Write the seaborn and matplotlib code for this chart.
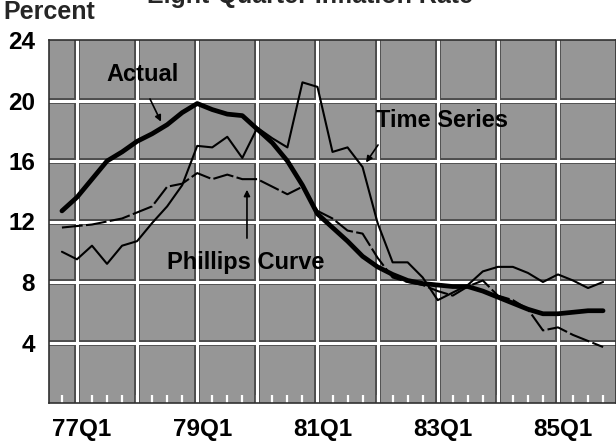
import matplotlib
matplotlib.use("Agg")
import matplotlib.pyplot as plt
import matplotlib.transforms as mtransforms
import seaborn as sns
import pandas as pd

# ---- data (quarters 76Q4 .. 85Q4) ----
quarters = ["76Q4"] + [f"{y}Q{q}" for y in range(77, 86) for q in range(1, 5)]
actual = [12.7, 13.6, 14.8, 16.0, 16.6, 17.3, 17.8, 18.4, 19.2, 19.8, 19.4, 19.1,
          19.0, 18.1, 17.2, 16.0, 14.4, 12.5, 11.6, 10.7, 9.7, 9.0, 8.5, 8.1,
          7.9, 7.8, 7.7, 7.7, 7.4, 7.0, 6.6, 6.2, 5.9, 5.9, 6.0, 6.1, 6.1]
time_series = [10.0, 9.5, 10.4, 9.2, 10.4, 10.7, 11.9, 13.0, 14.4, 17.0, 16.9, 17.6,
               16.2, 18.2, 17.5, 16.9, 21.2, 20.9, 16.6, 16.9, 15.6, 11.9, 9.3, 9.3,
               8.3, 6.8, 7.3, 7.8, 8.7, 9.0, 9.0, 8.6, 8.0, 8.5, 8.1, 7.6, 8.0]
phillips = [11.6, 11.7, 11.8, 12.0, 12.2, 12.6, 13.0, 14.3, 14.5, 15.2, 14.8, 15.1,
            14.8, 14.8, 14.3, 13.8, 14.3, 12.7, 12.2, 11.4, 11.2, 9.6, 8.3, 8.0,
            7.8, 7.4, 7.1, 7.7, 8.1, 7.1, 6.8, 6.2, 4.8, 5.0, 4.5, 4.1, 3.7]
y_ticks = [4, 8, 12, 16, 20, 24]
x_tick_labels = ["77Q1", "79Q1", "81Q1", "83Q1", "85Q1"]


def qpos(label):
    yr, q = label.split("Q")
    return (int(yr) - 77) * 4 + int(q) - 1


df = pd.DataFrame({
    "x": [qpos(s) for s in quarters],
    "Actual": actual,
    "Time Series": time_series,
    "Phillips Curve": phillips,
})

sns.set_style("white")
plt.rcParams["font.family"] = ["Liberation Sans", "DejaVu Sans"]
plt.rcParams["font.weight"] = "bold"

fig = plt.figure(figsize=(6.16, 4.41), dpi=100)
ax = fig.add_axes([49 / 616, 38 / 441, 567 / 616, 363 / 441])
ax.set_facecolor("#969696")

xmin, xmax = -1.86, 35.86
ax.set_xlim(xmin, xmax)
ax.set_ylim(0, 24)

# grid: dark halo under white lines
grid_x = list(range(0, 37, 4))
for gx in grid_x:
    ax.axvline(gx, color="#4a4a4a", lw=4.2, zorder=0.3)
    ax.axvline(gx, color="white", lw=2.2, zorder=0.4)
for gy in y_ticks[:-1]:
    ax.axhline(gy, color="#4a4a4a", lw=4.2, zorder=0.3)
    ax.axhline(gy, color="white", lw=2.2, zorder=0.4)

sns.lineplot(data=df, x="x", y="Time Series", ax=ax, color="black", lw=1.5, zorder=3)
sns.lineplot(data=df, x="x", y="Phillips Curve", ax=ax, color="black", lw=1.5,
             linestyle=(0, (10, 1.6)), zorder=3)
sns.lineplot(data=df, x="x", y="Actual", ax=ax, color="black", lw=3.4, zorder=4,
             solid_capstyle="round", solid_joinstyle="round")

# ticks
ax.set_xticks([qpos(s) for s in x_tick_labels])
ax.set_xticklabels(x_tick_labels)
ax.set_xticks(list(range(-1, 36)), minor=True)
ax.set_yticks(y_ticks)
ax.set_yticklabels([str(v) for v in y_ticks])
ax.tick_params(axis="both", which="major", length=0, labelsize=17.5, colors="black")
ax.tick_params(axis="x", which="major", pad=10.5)
ax.tick_params(axis="y", which="major", pad=10)
ax.tick_params(axis="x", which="minor", direction="in", length=6, width=1.6,
               color="white", bottom=True)
shift = mtransforms.ScaledTranslation(5 / 100, 0, fig.dpi_scale_trans)
for lab in ax.get_xticklabels():
    lab.set_transform(lab.get_transform() + shift)
ax.set_xlabel("")
ax.set_ylabel("")
for sp in ax.spines.values():
    sp.set_color("#303030")
    sp.set_linewidth(1.2)

# annotations
txt = dict(fontsize=17, fontweight="bold", color="black", ha="center", va="center", zorder=6)
ax.text(4.39, 21.69, "Actual", **txt)
ax.text(24.3, 18.7, "Time Series", **txt)
ax.text(11.2, 9.32, "Phillips Curve", **txt)
arrow = dict(arrowstyle="-|>", color="black", lw=1.2, mutation_scale=9, shrinkA=0, shrinkB=0)
ax.annotate("", xy=(5.59, 18.6), xytext=(4.86, 20.1), arrowprops=arrow, zorder=6)
ax.annotate("", xy=(19.23, 15.9), xytext=(20.03, 17.06), arrowprops=arrow, zorder=6)
ax.annotate("", xy=(11.31, 14.1), xytext=(11.31, 10.9), arrowprops=arrow, zorder=6)

fig.text(3 / 616, 1 - 12 / 441, "Percent", fontsize=18, fontweight="bold",
         ha="left", va="center")
fig.text(310 / 616, 1 - 3 / 441, "Eight-Quarter Inflation Rate", fontsize=18,
         fontweight="bold", ha="center", va="baseline")

fig.savefig("out.png", dpi=100)
